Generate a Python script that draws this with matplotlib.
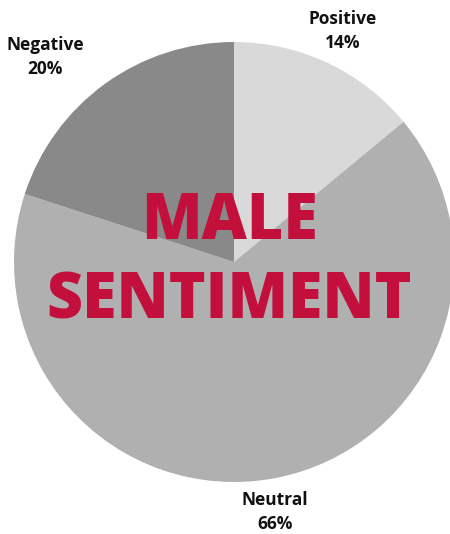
import matplotlib.pyplot as plt

labels = ['Positive', 'Neutral', 'Negative']
shares = [14, 66, 20]
colors = ['#d9d9d9', '#b0b0b0', '#898989']

# label positions in pixels (x from left, y from top)
label_pos = {'Positive': (343, 31), 'Neutral': (275, 512), 'Negative': (45, 57)}

fig = plt.figure(figsize=(4.5, 5.34), dpi=100)
ax = fig.add_axes([0, 0, 1, 1])

ax.pie(shares, colors=colors, startangle=90, counterclock=False,
       center=(234, 534 - 262), radius=220, frame=True,
       wedgeprops={'linewidth': 0})
ax.set_xlim(0, 450)
ax.set_ylim(0, 534)
ax.set_aspect('equal')
ax.axis('off')

for name, val in zip(labels, shares):
    x, y = label_pos[name]
    ax.text(x, 534 - y, f'{name}\n{val}%', ha='center', va='center',
            fontsize=12.5, fontweight='bold', family='Open Sans',
            color='#111111', linespacing=1.4)

ax.text(229, 534 - 262, 'MALE\nSENTIMENT', ha='center', va='center',
        fontsize=45, fontweight=800, family='Open Sans',
        color='#c20f3c', linespacing=1.32)

fig.savefig('out.png', dpi=100)
